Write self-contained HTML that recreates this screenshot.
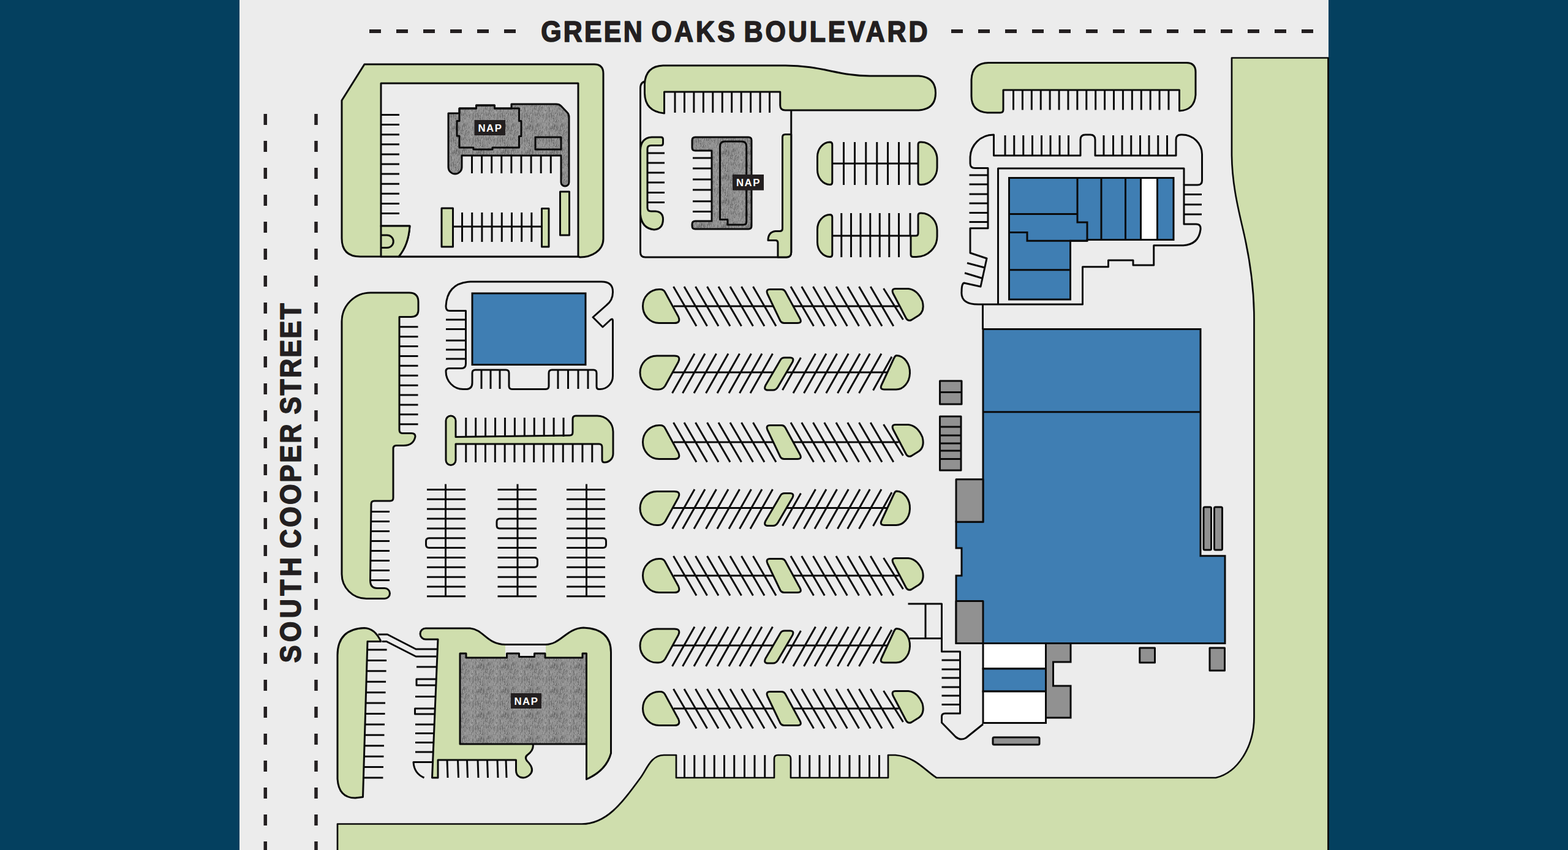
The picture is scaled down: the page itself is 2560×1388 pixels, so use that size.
<!DOCTYPE html>
<html lang="en">
<head>
<meta charset="utf-8">
<title>Site Plan</title>
<style>
html,body{margin:0;padding:0;background:#04405f;overflow:hidden}
body{width:2560px;height:1388px;position:relative;font-family:"Liberation Sans",sans-serif}
svg{position:absolute;left:0;top:0;display:block}
.g{fill:#cfdead;stroke:#0a0a0a;stroke-width:3;stroke-linejoin:round}
.l{fill:none;stroke:#0a0a0a;stroke-width:3;stroke-linecap:butt;stroke-linejoin:round}
.p{fill:#ececec;stroke:#0a0a0a;stroke-width:3;stroke-linejoin:round}
.b{fill:#3f7eb3;stroke:#0a0a0a;stroke-width:3;stroke-linejoin:miter}
.n{fill:#919191;stroke:#0a0a0a;stroke-width:3;stroke-linejoin:round}
.nx{fill:url(#tx);stroke:#0a0a0a;stroke-width:3;stroke-linejoin:round}
.w{fill:#ffffff;stroke:#0a0a0a;stroke-width:3;stroke-linejoin:miter}
.d{fill:none;stroke:#231f20;stroke-width:6;stroke-dasharray:19 25}
.t{font-family:"Liberation Sans",sans-serif;font-weight:700;fill:#231f20;stroke:#231f20;stroke-width:1.7;stroke-linejoin:round}
.nl{fill:#231f20}
.nt{font-family:"Liberation Sans",sans-serif;font-weight:700;fill:#fff;font-size:16.8px;letter-spacing:1.6px;text-anchor:middle}
</style>
</head>
<body>
<svg width="2560" height="1388" viewBox="0 0 2560 1388">
<defs><pattern id="tx" width="40" height="40" patternUnits="userSpaceOnUse"><rect width="40" height="40" fill="#939393"/><g fill="#4d4d4d"><rect x="28" y="35" width="1" height="6" opacity="0.38"/><rect x="28" y="32" width="1" height="6" opacity="0.25"/><rect x="11" y="32" width="1" height="3" opacity="0.25"/><rect x="6" y="28" width="1" height="3" opacity="0.25"/><rect x="5" y="34" width="1" height="6" opacity="0.18"/><rect x="38" y="25" width="1" height="3" opacity="0.25"/><rect x="39" y="0" width="1" height="6" opacity="0.18"/><rect x="3" y="2" width="1" height="2" opacity="0.25"/><rect x="38" y="1" width="1" height="6" opacity="0.38"/><rect x="20" y="28" width="1" height="4" opacity="0.25"/><rect x="33" y="14" width="1" height="5" opacity="0.3"/><rect x="31" y="0" width="1" height="5" opacity="0.18"/><rect x="29" y="17" width="1" height="3" opacity="0.18"/><rect x="16" y="20" width="1" height="6" opacity="0.25"/><rect x="32" y="18" width="1" height="2" opacity="0.18"/><rect x="36" y="6" width="1" height="3" opacity="0.18"/><rect x="18" y="24" width="1" height="2" opacity="0.18"/><rect x="0" y="13" width="1" height="2" opacity="0.18"/><rect x="30" y="24" width="1" height="5" opacity="0.38"/><rect x="26" y="4" width="1" height="4" opacity="0.25"/><rect x="17" y="21" width="1" height="2" opacity="0.3"/><rect x="21" y="0" width="1" height="3" opacity="0.18"/><rect x="8" y="15" width="1" height="5" opacity="0.18"/><rect x="0" y="3" width="1" height="3" opacity="0.38"/><rect x="11" y="35" width="1" height="2" opacity="0.38"/><rect x="32" y="12" width="1" height="5" opacity="0.25"/><rect x="26" y="24" width="1" height="2" opacity="0.38"/><rect x="26" y="13" width="1" height="2" opacity="0.3"/><rect x="37" y="19" width="1" height="2" opacity="0.25"/><rect x="11" y="25" width="1" height="6" opacity="0.18"/><rect x="2" y="9" width="1" height="2" opacity="0.38"/><rect x="16" y="0" width="1" height="6" opacity="0.3"/><rect x="18" y="24" width="1" height="2" opacity="0.18"/><rect x="5" y="13" width="1" height="4" opacity="0.25"/><rect x="0" y="38" width="1" height="3" opacity="0.3"/><rect x="39" y="29" width="1" height="2" opacity="0.38"/><rect x="36" y="8" width="1" height="6" opacity="0.38"/><rect x="11" y="9" width="1" height="3" opacity="0.25"/><rect x="39" y="15" width="1" height="5" opacity="0.25"/><rect x="10" y="35" width="1" height="2" opacity="0.38"/><rect x="30" y="38" width="1" height="2" opacity="0.38"/><rect x="3" y="6" width="1" height="2" opacity="0.18"/><rect x="32" y="16" width="1" height="2" opacity="0.38"/><rect x="16" y="26" width="1" height="6" opacity="0.38"/><rect x="18" y="33" width="1" height="2" opacity="0.18"/><rect x="8" y="14" width="1" height="3" opacity="0.18"/><rect x="17" y="13" width="1" height="2" opacity="0.18"/><rect x="4" y="17" width="1" height="3" opacity="0.38"/><rect x="15" y="3" width="1" height="2" opacity="0.25"/><rect x="18" y="23" width="1" height="4" opacity="0.25"/><rect x="5" y="23" width="1" height="2" opacity="0.38"/><rect x="21" y="33" width="1" height="4" opacity="0.25"/><rect x="37" y="2" width="1" height="2" opacity="0.38"/><rect x="22" y="19" width="1" height="2" opacity="0.18"/><rect x="38" y="4" width="1" height="3" opacity="0.18"/><rect x="19" y="20" width="1" height="2" opacity="0.18"/><rect x="4" y="28" width="1" height="4" opacity="0.3"/><rect x="2" y="8" width="1" height="6" opacity="0.3"/><rect x="22" y="5" width="1" height="5" opacity="0.38"/><rect x="4" y="26" width="1" height="6" opacity="0.18"/><rect x="31" y="36" width="1" height="2" opacity="0.38"/><rect x="24" y="37" width="1" height="2" opacity="0.18"/><rect x="5" y="5" width="1" height="5" opacity="0.18"/><rect x="16" y="26" width="1" height="5" opacity="0.3"/><rect x="24" y="37" width="1" height="3" opacity="0.38"/><rect x="29" y="34" width="1" height="2" opacity="0.18"/><rect x="19" y="38" width="1" height="2" opacity="0.38"/><rect x="1" y="14" width="1" height="5" opacity="0.18"/><rect x="31" y="39" width="1" height="5" opacity="0.38"/><rect x="16" y="0" width="1" height="3" opacity="0.3"/><rect x="9" y="39" width="1" height="2" opacity="0.25"/><rect x="21" y="28" width="1" height="3" opacity="0.25"/><rect x="20" y="25" width="1" height="5" opacity="0.3"/><rect x="12" y="27" width="1" height="6" opacity="0.25"/><rect x="13" y="24" width="1" height="2" opacity="0.3"/><rect x="13" y="8" width="1" height="2" opacity="0.38"/><rect x="22" y="2" width="1" height="5" opacity="0.18"/><rect x="17" y="10" width="1" height="2" opacity="0.38"/><rect x="30" y="17" width="1" height="2" opacity="0.38"/><rect x="24" y="33" width="1" height="3" opacity="0.3"/><rect x="39" y="28" width="1" height="3" opacity="0.18"/><rect x="2" y="17" width="1" height="6" opacity="0.18"/><rect x="17" y="36" width="1" height="3" opacity="0.3"/><rect x="36" y="1" width="1" height="5" opacity="0.25"/><rect x="25" y="29" width="1" height="2" opacity="0.18"/><rect x="17" y="15" width="1" height="6" opacity="0.25"/><rect x="3" y="7" width="1" height="3" opacity="0.18"/><rect x="34" y="23" width="1" height="2" opacity="0.25"/><rect x="12" y="30" width="1" height="3" opacity="0.25"/><rect x="0" y="30" width="1" height="4" opacity="0.18"/><rect x="11" y="14" width="1" height="3" opacity="0.3"/><rect x="34" y="33" width="1" height="4" opacity="0.25"/><rect x="25" y="14" width="1" height="2" opacity="0.38"/><rect x="24" y="8" width="1" height="3" opacity="0.38"/><rect x="12" y="0" width="1" height="3" opacity="0.3"/><rect x="29" y="20" width="1" height="5" opacity="0.25"/><rect x="6" y="7" width="1" height="2" opacity="0.25"/><rect x="24" y="5" width="1" height="3" opacity="0.3"/><rect x="16" y="1" width="1" height="3" opacity="0.18"/><rect x="2" y="28" width="1" height="3" opacity="0.38"/><rect x="17" y="31" width="1" height="2" opacity="0.25"/><rect x="4" y="27" width="1" height="6" opacity="0.18"/><rect x="11" y="34" width="1" height="3" opacity="0.25"/><rect x="30" y="9" width="1" height="4" opacity="0.38"/><rect x="31" y="37" width="1" height="5" opacity="0.18"/><rect x="14" y="28" width="1" height="4" opacity="0.3"/><rect x="35" y="10" width="1" height="4" opacity="0.3"/><rect x="19" y="24" width="1" height="6" opacity="0.25"/><rect x="19" y="9" width="1" height="4" opacity="0.3"/><rect x="36" y="31" width="1" height="2" opacity="0.38"/><rect x="34" y="7" width="1" height="4" opacity="0.18"/><rect x="38" y="24" width="1" height="2" opacity="0.18"/><rect x="33" y="25" width="1" height="4" opacity="0.18"/><rect x="31" y="5" width="1" height="5" opacity="0.25"/><rect x="4" y="34" width="1" height="3" opacity="0.38"/><rect x="25" y="17" width="1" height="2" opacity="0.38"/><rect x="31" y="8" width="1" height="3" opacity="0.38"/><rect x="30" y="33" width="1" height="3" opacity="0.18"/><rect x="12" y="26" width="1" height="4" opacity="0.18"/><rect x="16" y="8" width="1" height="5" opacity="0.18"/><rect x="2" y="12" width="1" height="2" opacity="0.25"/><rect x="0" y="18" width="1" height="3" opacity="0.3"/><rect x="15" y="39" width="1" height="3" opacity="0.18"/><rect x="31" y="37" width="1" height="2" opacity="0.3"/><rect x="12" y="33" width="1" height="3" opacity="0.18"/><rect x="24" y="26" width="1" height="6" opacity="0.25"/><rect x="34" y="13" width="1" height="6" opacity="0.25"/><rect x="33" y="13" width="1" height="6" opacity="0.25"/><rect x="14" y="22" width="1" height="2" opacity="0.3"/><rect x="38" y="20" width="1" height="2" opacity="0.25"/><rect x="12" y="6" width="1" height="2" opacity="0.25"/><rect x="8" y="5" width="1" height="3" opacity="0.38"/><rect x="6" y="27" width="1" height="6" opacity="0.38"/><rect x="34" y="8" width="1" height="2" opacity="0.38"/><rect x="1" y="6" width="1" height="2" opacity="0.3"/><rect x="23" y="7" width="1" height="5" opacity="0.3"/><rect x="32" y="12" width="1" height="6" opacity="0.18"/><rect x="30" y="6" width="1" height="2" opacity="0.18"/><rect x="35" y="39" width="1" height="4" opacity="0.38"/><rect x="9" y="12" width="1" height="2" opacity="0.18"/><rect x="13" y="11" width="1" height="6" opacity="0.25"/><rect x="18" y="6" width="1" height="4" opacity="0.18"/><rect x="8" y="29" width="1" height="2" opacity="0.18"/><rect x="20" y="25" width="1" height="3" opacity="0.38"/><rect x="32" y="22" width="1" height="3" opacity="0.25"/><rect x="38" y="23" width="1" height="2" opacity="0.18"/><rect x="12" y="11" width="1" height="3" opacity="0.38"/><rect x="23" y="23" width="1" height="3" opacity="0.25"/><rect x="38" y="10" width="1" height="2" opacity="0.18"/><rect x="20" y="5" width="1" height="6" opacity="0.38"/><rect x="36" y="38" width="1" height="2" opacity="0.3"/><rect x="16" y="17" width="1" height="2" opacity="0.25"/><rect x="25" y="8" width="1" height="3" opacity="0.3"/><rect x="27" y="11" width="1" height="3" opacity="0.25"/><rect x="11" y="4" width="1" height="6" opacity="0.3"/><rect x="19" y="30" width="1" height="2" opacity="0.18"/><rect x="22" y="39" width="1" height="2" opacity="0.25"/><rect x="17" y="19" width="1" height="3" opacity="0.25"/><rect x="25" y="36" width="1" height="2" opacity="0.18"/><rect x="24" y="32" width="1" height="3" opacity="0.25"/><rect x="7" y="25" width="1" height="4" opacity="0.18"/><rect x="7" y="39" width="1" height="2" opacity="0.25"/><rect x="16" y="28" width="1" height="3" opacity="0.18"/><rect x="12" y="24" width="1" height="2" opacity="0.18"/><rect x="16" y="16" width="1" height="3" opacity="0.3"/><rect x="35" y="34" width="1" height="4" opacity="0.38"/><rect x="33" y="36" width="1" height="6" opacity="0.18"/><rect x="28" y="4" width="1" height="4" opacity="0.18"/><rect x="24" y="10" width="1" height="3" opacity="0.38"/><rect x="10" y="31" width="1" height="4" opacity="0.18"/><rect x="27" y="31" width="1" height="3" opacity="0.3"/><rect x="33" y="25" width="1" height="4" opacity="0.3"/><rect x="23" y="33" width="1" height="3" opacity="0.38"/><rect x="17" y="35" width="1" height="3" opacity="0.3"/><rect x="1" y="0" width="1" height="6" opacity="0.25"/><rect x="37" y="2" width="1" height="5" opacity="0.25"/><rect x="26" y="24" width="1" height="2" opacity="0.3"/><rect x="25" y="3" width="1" height="4" opacity="0.3"/><rect x="4" y="14" width="1" height="3" opacity="0.38"/><rect x="16" y="15" width="1" height="2" opacity="0.18"/><rect x="29" y="9" width="1" height="6" opacity="0.25"/><rect x="38" y="7" width="1" height="2" opacity="0.38"/><rect x="29" y="7" width="1" height="2" opacity="0.18"/><rect x="22" y="33" width="1" height="2" opacity="0.18"/><rect x="23" y="28" width="1" height="2" opacity="0.38"/><rect x="29" y="38" width="1" height="3" opacity="0.38"/><rect x="23" y="33" width="1" height="6" opacity="0.25"/><rect x="18" y="8" width="1" height="2" opacity="0.38"/><rect x="7" y="32" width="1" height="3" opacity="0.3"/><rect x="17" y="17" width="1" height="4" opacity="0.25"/><rect x="17" y="15" width="1" height="2" opacity="0.25"/><rect x="32" y="12" width="1" height="5" opacity="0.18"/><rect x="3" y="0" width="1" height="3" opacity="0.3"/><rect x="27" y="1" width="1" height="4" opacity="0.18"/><rect x="6" y="14" width="1" height="4" opacity="0.3"/><rect x="4" y="5" width="1" height="5" opacity="0.25"/><rect x="35" y="15" width="1" height="5" opacity="0.3"/><rect x="30" y="30" width="1" height="3" opacity="0.25"/><rect x="21" y="21" width="1" height="3" opacity="0.25"/><rect x="4" y="7" width="1" height="3" opacity="0.25"/><rect x="28" y="27" width="1" height="5" opacity="0.3"/><rect x="24" y="9" width="1" height="3" opacity="0.25"/><rect x="38" y="20" width="1" height="3" opacity="0.25"/><rect x="27" y="23" width="1" height="4" opacity="0.18"/><rect x="29" y="20" width="1" height="2" opacity="0.18"/><rect x="27" y="36" width="1" height="4" opacity="0.38"/><rect x="29" y="19" width="1" height="6" opacity="0.18"/><rect x="4" y="19" width="1" height="2" opacity="0.18"/><rect x="19" y="31" width="1" height="5" opacity="0.3"/><rect x="18" y="9" width="1" height="2" opacity="0.3"/><rect x="20" y="23" width="1" height="2" opacity="0.3"/><rect x="28" y="36" width="1" height="4" opacity="0.3"/><rect x="28" y="33" width="1" height="6" opacity="0.3"/><rect x="29" y="20" width="1" height="2" opacity="0.38"/><rect x="33" y="15" width="1" height="2" opacity="0.3"/><rect x="23" y="1" width="1" height="3" opacity="0.38"/><rect x="37" y="24" width="1" height="6" opacity="0.25"/><rect x="36" y="23" width="1" height="6" opacity="0.38"/><rect x="34" y="9" width="1" height="6" opacity="0.25"/><rect x="11" y="5" width="1" height="6" opacity="0.38"/><rect x="18" y="1" width="1" height="2" opacity="0.18"/><rect x="34" y="10" width="1" height="4" opacity="0.3"/><rect x="1" y="27" width="1" height="2" opacity="0.3"/><rect x="34" y="5" width="1" height="3" opacity="0.18"/><rect x="17" y="6" width="1" height="3" opacity="0.18"/><rect x="1" y="9" width="1" height="2" opacity="0.38"/><rect x="15" y="14" width="1" height="3" opacity="0.3"/><rect x="29" y="25" width="1" height="3" opacity="0.3"/><rect x="21" y="8" width="1" height="3" opacity="0.38"/><rect x="34" y="4" width="1" height="5" opacity="0.18"/><rect x="26" y="22" width="1" height="6" opacity="0.18"/><rect x="24" y="5" width="1" height="3" opacity="0.18"/><rect x="33" y="23" width="1" height="5" opacity="0.18"/><rect x="7" y="26" width="1" height="3" opacity="0.25"/><rect x="15" y="10" width="1" height="5" opacity="0.38"/><rect x="10" y="20" width="1" height="2" opacity="0.38"/><rect x="27" y="33" width="1" height="3" opacity="0.3"/><rect x="3" y="30" width="1" height="3" opacity="0.18"/><rect x="19" y="9" width="1" height="6" opacity="0.25"/><rect x="3" y="29" width="1" height="2" opacity="0.38"/><rect x="2" y="20" width="1" height="2" opacity="0.25"/><rect x="11" y="22" width="1" height="2" opacity="0.25"/><rect x="38" y="30" width="1" height="4" opacity="0.25"/><rect x="28" y="11" width="1" height="3" opacity="0.38"/><rect x="11" y="19" width="1" height="5" opacity="0.38"/><rect x="16" y="31" width="1" height="3" opacity="0.3"/><rect x="35" y="5" width="1" height="3" opacity="0.25"/><rect x="25" y="3" width="1" height="2" opacity="0.25"/><rect x="24" y="33" width="1" height="6" opacity="0.3"/><rect x="3" y="15" width="1" height="2" opacity="0.38"/><rect x="23" y="28" width="1" height="6" opacity="0.25"/><rect x="26" y="38" width="1" height="6" opacity="0.25"/><rect x="26" y="10" width="1" height="6" opacity="0.3"/><rect x="9" y="16" width="1" height="6" opacity="0.25"/><rect x="39" y="17" width="1" height="4" opacity="0.18"/><rect x="9" y="36" width="1" height="6" opacity="0.25"/><rect x="0" y="13" width="1" height="6" opacity="0.25"/><rect x="8" y="5" width="1" height="3" opacity="0.3"/><rect x="39" y="33" width="1" height="2" opacity="0.38"/><rect x="29" y="5" width="1" height="5" opacity="0.3"/><rect x="1" y="12" width="1" height="3" opacity="0.25"/><rect x="5" y="28" width="1" height="2" opacity="0.18"/><rect x="34" y="26" width="1" height="4" opacity="0.38"/><rect x="10" y="19" width="1" height="3" opacity="0.3"/><rect x="25" y="4" width="1" height="4" opacity="0.3"/><rect x="29" y="4" width="1" height="3" opacity="0.18"/><rect x="8" y="6" width="1" height="5" opacity="0.38"/><rect x="29" y="7" width="1" height="5" opacity="0.38"/><rect x="0" y="24" width="1" height="5" opacity="0.38"/><rect x="15" y="18" width="1" height="4" opacity="0.18"/><rect x="29" y="0" width="1" height="6" opacity="0.25"/><rect x="39" y="9" width="1" height="3" opacity="0.38"/><rect x="34" y="19" width="1" height="3" opacity="0.38"/><rect x="35" y="5" width="1" height="3" opacity="0.25"/><rect x="12" y="24" width="1" height="5" opacity="0.18"/><rect x="21" y="19" width="1" height="3" opacity="0.38"/><rect x="21" y="28" width="1" height="6" opacity="0.38"/><rect x="5" y="6" width="1" height="2" opacity="0.18"/><rect x="8" y="11" width="1" height="2" opacity="0.25"/><rect x="25" y="2" width="1" height="6" opacity="0.38"/><rect x="37" y="5" width="1" height="2" opacity="0.25"/><rect x="2" y="10" width="1" height="2" opacity="0.38"/><rect x="26" y="4" width="1" height="3" opacity="0.38"/><rect x="32" y="8" width="1" height="5" opacity="0.25"/><rect x="9" y="24" width="1" height="3" opacity="0.3"/><rect x="26" y="39" width="1" height="2" opacity="0.38"/><rect x="39" y="20" width="1" height="6" opacity="0.25"/><rect x="38" y="33" width="1" height="2" opacity="0.3"/><rect x="21" y="12" width="1" height="3" opacity="0.3"/><rect x="28" y="6" width="1" height="4" opacity="0.38"/><rect x="13" y="32" width="1" height="3" opacity="0.3"/><rect x="6" y="39" width="1" height="5" opacity="0.25"/><rect x="16" y="34" width="1" height="3" opacity="0.25"/><rect x="22" y="39" width="1" height="4" opacity="0.25"/><rect x="36" y="12" width="1" height="4" opacity="0.25"/><rect x="36" y="1" width="1" height="5" opacity="0.25"/><rect x="5" y="8" width="1" height="2" opacity="0.38"/><rect x="36" y="26" width="1" height="5" opacity="0.3"/><rect x="21" y="5" width="1" height="6" opacity="0.3"/><rect x="17" y="29" width="1" height="2" opacity="0.38"/></g><rect x="8" y="15" width="1" height="4" fill="#b4b4b4" opacity="0.45"/><rect x="34" y="34" width="1" height="4" fill="#b4b4b4" opacity="0.45"/><rect x="4" y="35" width="1" height="3" fill="#b4b4b4" opacity="0.45"/><rect x="10" y="21" width="1" height="4" fill="#b4b4b4" opacity="0.45"/><rect x="9" y="7" width="1" height="2" fill="#b4b4b4" opacity="0.45"/><rect x="18" y="23" width="1" height="2" fill="#b4b4b4" opacity="0.45"/><rect x="36" y="23" width="1" height="2" fill="#b4b4b4" opacity="0.45"/><rect x="11" y="38" width="1" height="4" fill="#b4b4b4" opacity="0.45"/><rect x="4" y="29" width="1" height="2" fill="#b4b4b4" opacity="0.45"/><rect x="25" y="11" width="1" height="4" fill="#b4b4b4" opacity="0.45"/><rect x="8" y="19" width="1" height="4" fill="#b4b4b4" opacity="0.45"/><rect x="24" y="39" width="1" height="4" fill="#b4b4b4" opacity="0.45"/><rect x="1" y="10" width="1" height="2" fill="#b4b4b4" opacity="0.45"/><rect x="26" y="29" width="1" height="2" fill="#b4b4b4" opacity="0.45"/><rect x="9" y="33" width="1" height="3" fill="#b4b4b4" opacity="0.45"/><rect x="7" y="36" width="1" height="3" fill="#b4b4b4" opacity="0.45"/><rect x="11" y="21" width="1" height="4" fill="#b4b4b4" opacity="0.45"/><rect x="8" y="16" width="1" height="2" fill="#b4b4b4" opacity="0.45"/><rect x="36" y="21" width="1" height="2" fill="#b4b4b4" opacity="0.45"/><rect x="2" y="9" width="1" height="3" fill="#b4b4b4" opacity="0.45"/><rect x="31" y="38" width="1" height="2" fill="#b4b4b4" opacity="0.45"/><rect x="30" y="22" width="1" height="3" fill="#b4b4b4" opacity="0.45"/><rect x="39" y="36" width="1" height="3" fill="#b4b4b4" opacity="0.45"/><rect x="18" y="31" width="1" height="3" fill="#b4b4b4" opacity="0.45"/><rect x="26" y="27" width="1" height="2" fill="#b4b4b4" opacity="0.45"/><rect x="36" y="7" width="1" height="4" fill="#b4b4b4" opacity="0.45"/><rect x="21" y="33" width="1" height="4" fill="#b4b4b4" opacity="0.45"/><rect x="27" y="26" width="1" height="2" fill="#b4b4b4" opacity="0.45"/><rect x="20" y="3" width="1" height="3" fill="#b4b4b4" opacity="0.45"/><rect x="39" y="27" width="1" height="4" fill="#b4b4b4" opacity="0.45"/><rect x="24" y="38" width="1" height="3" fill="#b4b4b4" opacity="0.45"/><rect x="19" y="37" width="1" height="2" fill="#b4b4b4" opacity="0.45"/><rect x="15" y="7" width="1" height="3" fill="#b4b4b4" opacity="0.45"/><rect x="15" y="32" width="1" height="3" fill="#b4b4b4" opacity="0.45"/><rect x="3" y="30" width="1" height="4" fill="#b4b4b4" opacity="0.45"/><rect x="6" y="33" width="1" height="2" fill="#b4b4b4" opacity="0.45"/><rect x="34" y="19" width="1" height="4" fill="#b4b4b4" opacity="0.45"/><rect x="25" y="15" width="1" height="2" fill="#b4b4b4" opacity="0.45"/><rect x="23" y="34" width="1" height="3" fill="#b4b4b4" opacity="0.45"/><rect x="36" y="10" width="1" height="2" fill="#b4b4b4" opacity="0.45"/><rect x="26" y="36" width="1" height="2" fill="#b4b4b4" opacity="0.45"/><rect x="4" y="6" width="1" height="4" fill="#b4b4b4" opacity="0.45"/><rect x="8" y="7" width="1" height="4" fill="#b4b4b4" opacity="0.45"/><rect x="36" y="29" width="1" height="2" fill="#b4b4b4" opacity="0.45"/><rect x="18" y="15" width="1" height="4" fill="#b4b4b4" opacity="0.45"/><rect x="19" y="1" width="1" height="3" fill="#b4b4b4" opacity="0.45"/><rect x="11" y="4" width="1" height="3" fill="#b4b4b4" opacity="0.45"/><rect x="28" y="33" width="1" height="3" fill="#b4b4b4" opacity="0.45"/><rect x="9" y="22" width="1" height="4" fill="#b4b4b4" opacity="0.45"/><rect x="37" y="14" width="1" height="2" fill="#b4b4b4" opacity="0.45"/><rect x="19" y="1" width="1" height="3" fill="#b4b4b4" opacity="0.45"/><rect x="20" y="19" width="1" height="3" fill="#b4b4b4" opacity="0.45"/><rect x="31" y="9" width="1" height="3" fill="#b4b4b4" opacity="0.45"/><rect x="13" y="12" width="1" height="3" fill="#b4b4b4" opacity="0.45"/><rect x="3" y="12" width="1" height="3" fill="#b4b4b4" opacity="0.45"/><rect x="22" y="30" width="1" height="2" fill="#b4b4b4" opacity="0.45"/><rect x="11" y="35" width="1" height="2" fill="#b4b4b4" opacity="0.45"/><rect x="34" y="15" width="1" height="2" fill="#b4b4b4" opacity="0.45"/><rect x="3" y="6" width="1" height="3" fill="#b4b4b4" opacity="0.45"/><rect x="20" y="17" width="1" height="3" fill="#b4b4b4" opacity="0.45"/><rect x="8" y="21" width="1" height="4" fill="#b4b4b4" opacity="0.45"/><rect x="28" y="26" width="1" height="2" fill="#b4b4b4" opacity="0.45"/><rect x="10" y="14" width="1" height="3" fill="#b4b4b4" opacity="0.45"/><rect x="7" y="12" width="1" height="3" fill="#b4b4b4" opacity="0.45"/><rect x="11" y="15" width="1" height="4" fill="#b4b4b4" opacity="0.45"/><rect x="18" y="17" width="1" height="3" fill="#b4b4b4" opacity="0.45"/><rect x="33" y="7" width="1" height="4" fill="#b4b4b4" opacity="0.45"/><rect x="33" y="14" width="1" height="3" fill="#b4b4b4" opacity="0.45"/><rect x="11" y="14" width="1" height="3" fill="#b4b4b4" opacity="0.45"/><rect x="8" y="5" width="1" height="3" fill="#b4b4b4" opacity="0.45"/><rect x="4" y="28" width="1" height="4" fill="#b4b4b4" opacity="0.45"/><rect x="4" y="33" width="1" height="2" fill="#b4b4b4" opacity="0.45"/><rect x="0" y="38" width="1" height="4" fill="#b4b4b4" opacity="0.45"/><rect x="18" y="34" width="1" height="3" fill="#b4b4b4" opacity="0.45"/><rect x="27" y="36" width="1" height="2" fill="#b4b4b4" opacity="0.45"/><rect x="10" y="18" width="1" height="2" fill="#b4b4b4" opacity="0.45"/><rect x="15" y="11" width="1" height="3" fill="#b4b4b4" opacity="0.45"/><rect x="35" y="1" width="1" height="2" fill="#b4b4b4" opacity="0.45"/><rect x="9" y="2" width="1" height="4" fill="#b4b4b4" opacity="0.45"/><rect x="29" y="37" width="1" height="3" fill="#b4b4b4" opacity="0.45"/></pattern></defs>
<rect x="0" y="0" width="2560" height="1388" fill="#04405f"/>
<rect x="391" y="0" width="1778" height="1388" fill="#ececec"/>
<!-- roads -->
<g id="roads">
<path class="d" d="M603 51H850"/>
<path class="d" d="M1553 51H2160"/>
<path class="d" style="stroke-width:5.5;stroke-dasharray:18 26" d="M433.250 186V1388"/>
<path class="d" style="stroke-width:5.5;stroke-dasharray:18 26" d="M516 186V1388"/>
<text class="t" transform="translate(883.20 68.300) scale(0.89 1)" font-size="48.3" textLength="186.0" lengthAdjust="spacing">GREEN</text>
<text class="t" transform="translate(1063.40 68.300) scale(0.89 1)" font-size="48.3" textLength="153.4" lengthAdjust="spacing">OAKS</text>
<text class="t" transform="translate(1214.60 68.300) scale(0.89 1)" font-size="48.3" textLength="336.9" lengthAdjust="spacing">BOULEVARD</text>
<text class="t" transform="translate(491 1082.30) rotate(-90) scale(0.89 1)" font-size="48.3" textLength="193.5" lengthAdjust="spacing">SOUTH</text>
<text class="t" transform="translate(491 895.20) rotate(-90) scale(0.89 1)" font-size="48.3" textLength="227.9" lengthAdjust="spacing">COOPER</text>
<text class="t" transform="translate(491 676.40) rotate(-90) scale(0.89 1)" font-size="48.3" textLength="203.6" lengthAdjust="spacing">STREET</text>
</g>
<!-- big green perimeter -->
<g id="perim">
<path class="g" style="stroke-width:2.7" d="M551 1392V1345.5H950C990 1345.5 1015 1312 1045 1271C1056 1257 1062 1233 1084 1233H1104V1270H1264V1239Q1264 1233 1270 1233H1285Q1291 1233 1291 1239V1270H1450V1233H1462C1495 1236 1510 1258 1529 1270H1985C2020 1262 2047.500 1220 2047.500 1171V520C2047.500 460 2038 411 2029 373C2020 335 2011 295 2011 250V94.500H2168.500V1392Z"/>
<path class="l" d="M1117.5 1233V1270M1133.75 1233V1270M1150 1233V1270M1166.25 1233V1270M1182.5 1233V1270M1198.75 1233V1270M1215.5 1233V1270M1232 1233V1270M1248.75 1233V1270M1305.75 1233V1270M1321.75 1233V1270M1338 1233V1270M1354.5 1233V1270M1370.75 1233V1270M1387 1233V1270M1403.25 1233V1270M1419.5 1233V1270M1435.5 1233V1270"/>
</g>
<!-- block A: top-left -->
<g id="blockA">
<path class="g" d="M595 105H970Q985 105 985 120V390C985 410 965 420 947 420L944 419H588Q558 419 558 389V164Z"/>
<path class="p" d="M622 136H944V419H651Q667 400 669 369H622Z"/>
<path class="g" d="M622 369H669Q667 400 651 419H622Z"/>
<path class="l" d="M622 384H632A10 10 0 0 1 632 404.500H622"/>
<path class="l" d="M622 187.500h30M622 203.600h30M622 219.700h30M622 235.800h30M622 251.900h30M622 268h30M622 284.100h30M622 300.200h30M622 316.300h30M622 332.400h30M622 348.500h30"/>
<path class="nx" d="M732 185H750V177H777.500V172H807.500V177H835V170H908Q913 170 916 173L926 183.500Q929 186.500 929 191V297.500A6.500 6.500 0 0 1 916 297.500V254H754V273A11 11 0 0 1 732 273Z"/>
<path class="l" d="M750 177H777.500V172H807.500V177H847.500V197.500H851V222.500H847.500V241H804V244H773V241H750V222H746V197.500H750Z"/>
<path class="l" d="M874 224H916V244H874Z"/>
<path class="l" d="M770.500 254v29M786.600 254v29M802.700 254v29M818.800 254v29M834.900 254v29M851 254v29M867.100 254v29M883.200 254v29M899.300 254v29"/>
<rect class="nl" x="774.500" y="196" width="50.500" height="25"/>
<text class="nt" x="800.500" y="214.500">NAP</text>
<path class="l" d="M739.500 370H884.500M754.500 347v48M770.700 347v48M786.900 347v48M803.100 347v48M819.300 347v48M835.500 347v48M851.700 347v48M867.900 347v48"/>
<rect class="g" x="721" y="340" width="18.500" height="63"/>
<rect class="g" x="884.500" y="340.500" width="11.500" height="62.500"/>
<rect class="g" x="914.500" y="313" width="15" height="71"/>
</g>
<!-- block B: left green L -->
<g id="blockB">
<path class="g" d="M605 478H668Q683 478 683 493V506Q683 517.5 671 517.5H652V702Q652 707.5 657 707.5H672Q678 707.5 678 713Q675 727.5 659 727.5H647Q642 727.5 642 732.5V813Q642 818 637 818H611Q606 818 606 823L604.5 948Q604.5 960.5 616 960.5H628A8.5 8.5 0 0 1 628 977.5H598A40 40 0 0 1 558 937.500V525A47 47 0 0 1 605 478Z"/>
<path class="l" d="M652 533.75h30.5M652 549.65h30.5M652 565.55h30.5M652 581.45h30.5M652 597.35h30.5M652 613.25h30.5M652 629.15h30.5M652 645.05h30.5M652 660.95h30.5M652 676.85h30.5M652 692.75h30.5M605.5 835.5h30.5M605.5 851.5h30.5M605.5 867.5h30.5M605.5 883.5h30.5M605.5 899.5h30.5M605.5 915.5h30.5M605.5 931.5h30.5M605.5 947.5h30.5"/>
</g>
<!-- block C: blue building -->
<g id="blockC">
<path class="l" d="M728 500Q730 462 768 460H982Q1000.500 460 1000.500 476Q1001 490 990 498.500L968 518L984 534L996.500 522.500Q1000.500 519 1000.500 524V614A21 21.500 0 0 1 979.500 635.500H978Q974 635.500 974 631V609Q974 604 969 604H901Q896 604 896 609V630.500Q896 635.500 891 635.500H836Q831 635.500 831 630.500V609Q831 604 826 604H776Q771 604 771 609V625Q771 635.500 761 635.500H756A28 29 0 0 1 728 606.500Q728 601.500 733 601.500H753Q760.500 601.500 760.500 594V507.500H734Q728 507.500 728 500Z"/>
<path class="l" d="M728 522H760.5M728 537.5H760.5M728 556H760.5M728 571H760.5M728 586H760.5M786 604V635M801 604V635M816 604V635M911 604V635M927.5 604V635M944 604V635M960 604V635"/>
<rect class="b" x="771" y="479" width="185" height="116.500"/>
</g>
<!-- block D -->
<g id="blockD">
<path class="g" d="M728 687A8 8 0 0 1 744 687V713.500L930 711Q935 711 935 706V684Q935 679 940 679H975A26 26 0 0 1 1001 705V741A14 14 0 0 1 987 755Q983 755 983 751V730Q983 725 978 725H744V751.500A8 8 0 0 1 728 751.500Z"/>
<path class="l" d="M760.75 682V713M776.68 682V713M792.61 682V713M808.54 682V713M824.47 682V713M840.4 682V713M856.33 682V713M872.26 682V713M888.19 682V713M904.12 682V713M920.05 682V713M760.75 725V755M776.6 725V755M792.45 725V755M808.3 725V755M824.15 725V755M840 725V755M855.85 725V755M871.7 725V755M887.55 725V755M903.4 725V755M919.25 725V755M935.1 725V755M950.95 725V755M966.8 725V755"/>
</g>
<!-- parking columns -->
<g id="pcols">
<path class="l" d="M727.5 790.5V974M697 799.5H760M697 815.35H760M697 831.2H760M697 847.05H760M697 862.9H760M700.5 878.75H760M700.5 894.6H760M697 910.45H760M697 926.3H760M697 942.15H760M697 958H760M697 973.85H760M700.5 878.75Q695.5 878.75 695.5 883.75V889.6Q695.5 894.6 700.5 894.6M845 790.5V974M812.5 799.5H876M812.5 815.35H876M812.5 831.2H876M816 847.05H876M816 862.9H876M812.5 878.75H876M812.5 894.6H876M812.5 910.45H872.5M812.5 926.3H872.5M812.5 942.15H876M812.5 958H876M812.5 973.85H876M816 847.05Q811 847.05 811 852.05V857.9Q811 862.9 816 862.9M872.5 910.45Q877.5 910.45 877.5 915.45V921.3Q877.5 926.3 872.5 926.3M957.5 790.5V974M925 799.5H988M925 815.35H988M925 831.2H988M925 847.05H988M925 862.9H988M925 878.75H984.5M925 894.6H984.5M925 910.45H988M925 926.3H988M925 942.15H988M925 958H988M925 973.85H988M984.5 878.75Q989.5 878.75 989.5 883.75V889.6Q989.5 894.6 984.5 894.6"/>
</g>
<!-- block E: bottom-left -->
<g id="blockE">
<path class="g" d="M600 1047.5H622Q612 1026 595 1025.5Q551 1027 551 1070V1272Q553 1303 580 1303L592.5 1301.500Z"/>
<path class="l" d="M599.6 1061h32M599.09 1078.42h32M598.57 1095.84h32M598.06 1113.26h32M597.54 1130.68h32M597.03 1148.1h32M596.52 1165.52h32M596 1182.94h32M595.49 1200.36h32M594.97 1217.78h32M594.46 1235.2h32M593.94 1252.62h32M593.43 1270.04h32"/>
<path class="l" d="M617.5 1036H632.5L679 1060H713M624 1047.5H631L679 1072H712.5"/>
<path class="g" style="stroke:none" d="M695 1026H767.5C790 1028 795 1052.5 825 1052.5V1074H891V1052.5C915 1052.5 925 1026 952.5 1025Q997.5 1027 997.5 1065V1230Q990 1258 957.5 1272.5V1215H870Q872 1224 862 1232Q856 1236 860 1242Q874 1256 865 1265Q858 1272 849 1269Q842.5 1266 842.5 1258V1241H715V1270H705.5L715 1044H695A9 9 0 0 1 695 1026Z"/>
<path class="l" d="M957.5 1215V1272.5Q990 1258 997.5 1230V1065Q997.5 1027 952.5 1025C925 1026 915 1052.5 891 1052.5H825C795 1052.5 790 1028 767.5 1026H695A9 9 0 0 0 695 1044H715L705.5 1270H715V1241H842.5V1258Q842.5 1266 849 1269Q858 1272 865 1265Q874 1256 860 1242Q856 1236 862 1232Q872 1224 870 1215"/>
<path class="nx" d="M751 1067H761V1074H827.5V1067H847.5V1072.5H872.5V1067H890V1074H951V1067H957.5V1215H751Z"/>
<path class="l" d="M730 1241L731 1270M747.5 1241L748.5 1270M762.5 1241L763.5 1270M780 1241L781 1270M795.5 1241L796.5 1270M812 1241L813 1270M826 1241L827 1270"/>
<path class="l" d="M680 1089H713M678 1137.5H711M678 1183H709M678 1197.5H708.5M678 1212.5H708M678 1228H707.5M713 1109H680V1119H712.5M711 1157H677.5V1166H710.5M707 1244.5H675Q676 1263 692.5 1270"/>
<rect class="nl" x="834" y="1132" width="50" height="25"/>
<text class="nt" x="859.5" y="1150.5">NAP</text>
</g>
<!-- block F: top middle lot -->
<g id="blockF">
<path class="l" d="M1057 132.5Q1045.500 132.5 1045.500 144V412Q1045.500 420 1053.500 420H1284Q1291.75 420 1291.75 412V180"/>
<path class="g" d="M1082.5 107H1282.5C1340 107 1370 124 1420 124H1500Q1527.5 126 1527.5 152Q1527.5 178 1500 180H1282Q1273.75 180 1273.75 172V150H1084.5V185Q1053 182 1052.5 152V137Q1054 108 1082.5 107Z"/>
<path class="l" d="M1102 150V184M1117.45 150V184M1132.9 150V184M1148.35 150V184M1163.8 150V184M1179.25 150V184M1194.7 150V184M1210.15 150V184M1225.6 150V184M1241.05 150V184M1256.5 150V184"/>
<path class="g" d="M1045.500 245Q1046.500 225 1064 224H1079Q1082.5 224 1082.5 227.5V234Q1082.5 237.5 1079 237.5H1063Q1057 237.5 1057 243V339Q1057 345 1063 345H1070Q1082.5 346 1082.5 358Q1082.5 374 1068 375Q1047.500 373 1045.500 350Z"/>
<path class="l" d="M1057 250H1085M1057 266H1085M1057 282H1085M1057 298H1085M1057 314.5H1085M1057 330.5H1085M1131 258H1162M1131 275H1162M1131 293H1162M1131 310H1162M1131 328.75H1162M1131 345.5H1162"/>
<path class="nx" transform="translate(0 1)" d="M1135 223H1222Q1227 223 1227 228V368Q1227 373 1222 373H1135Q1130 373 1130 368V365Q1130 360 1135 360H1162V245H1135Q1130 245 1130 240V228Q1130 223 1135 223Z"/>
<path class="l" transform="translate(0 1)" d="M1175.5 357.5V238Q1175.5 230 1183.5 230H1210.75Q1218.75 230 1218.75 238V361Q1218.75 366 1213.75 366H1188V357.5Z"/>
<rect class="nl" x="1196" y="285" width="51" height="25.750"/>
<text class="nt" x="1222" y="303.750">NAP</text>
<path class="g" d="M1291.75 219.5H1282Q1277.5 219.5 1277.5 224V373Q1277.5 377.5 1273 377.5H1266Q1254 379 1254 392.5H1266Q1270 392.5 1270 396.5V420H1284Q1291.75 420 1291.75 412Z"/>
</g>
<!-- block G: two parking rows -->
<g id="blockG">
<path class="g" d="M1355 232 Q1358.800 232 1358.800 236 V297.5 Q1358.800 301.5 1355 301.5 A21 24 0 0 1 1334.500 277.5 V256 A21 24 0 0 1 1355 232Z"/>
<path class="g" d="M1503 232H1504A26 28 0 0 1 1530 260V273.500A26 28 0 0 1 1504 301.500H1503Q1499 301.500 1499 297.500V236Q1499 232 1503 232Z"/>
<path class="l" d="M1359 267H1499M1377.5 232V302M1395.5 232V302M1413.75 232V302M1431.75 232V302M1449.5 232V302M1467.5 232V302M1485 232V302"/>
<path class="g" d="M1355 350.5 Q1358.800 350.5 1358.800 354.5 V415.5 Q1358.800 419.5 1355 419.5 A21 24 0 0 1 1334.500 395.5 V374.5 A21 24 0 0 1 1355 350.5Z"/>
<path class="g" d="M1503 348H1504A26 28 0 0 1 1530 376V386A34 33.500 0 0 1 1496 419.500H1491Q1487 419.500 1487 415.500V385H1495Q1499 385 1499 381V352Q1499 348 1503 348Z"/>
<path class="l" d="M1359 385H1487M1373.75 348V420M1389.5 348V420M1405 348V420M1420.75 348V420M1436.25 348V420M1451.75 348V420M1467.5 348V420M1486 348V385"/>
</g>
<!-- angled parking rows -->
<g id="rows">
<path class="l" d="M1100 500H1467.5M1099.5 468L1137 532.5M1117 468L1154.5 532.5M1135.5 468L1173 532.5M1154.5 468L1192 532.5M1173 468L1210.5 532.5M1192 468L1229.5 532.5M1210.5 468L1248 532.5M1229.5 468L1267 532.5M1291 468L1328.5 532.5M1308.75 468L1346.25 532.5M1327.5 468L1365 532.5M1345.75 468L1383.25 532.5M1365 468L1402.5 532.5M1383.75 468L1421.25 532.5M1402.5 468L1440 532.5M1421.25 468L1458.75 532.5M1442.5 471L1474.5 522"/>
<path class="g" d="M1076 472.5 H1078 Q1083.5 472.5 1086 477.5 L1107.5 517 Q1112 527.5 1101 527.5 H1076 A26.500 27.500 0 0 1 1076 472.5Z"/>
<path class="g" d="M1257 472.5 H1276 Q1280 472.5 1282 476 L1306 520 Q1310 527.5 1302 527.5 H1280 Q1276 527.5 1274 524 L1253 480 Q1250 472.5 1257 472.5Z"/>
<path class="g" d="M1462 471.5 H1483 Q1498 473 1506 492 Q1510 508 1500 515 L1488 522.5 Q1482 525 1479 519 L1458 479 Q1455 471.5 1462 471.5Z"/>
<path class="l" d="M1097.5 608H1450M1097.5 642L1134 577.5M1114.5 642L1151 577.5M1133 642L1169.5 577.5M1152.5 642L1189 577.5M1171 642L1207.5 577.5M1190 642L1226.5 577.5M1207.5 642L1244 577.5M1225 642L1261.5 577.5M1295 642L1331.5 577.5M1312.5 642L1349 577.5M1330 642L1366.5 577.5M1348.75 642L1385.25 577.5M1367.5 642L1404 577.5M1383.75 642L1420.25 577.5M1402.5 642L1439 577.5M1277.5 637L1307.5 584M1425.500 637.5L1456 582.5"/>
<path class="g" d="M1072.5 581 H1101 Q1112 581 1107.5 591 L1086 630 Q1082 636 1075 636 H1072.5 A27.500 27.500 0 0 1 1072.5 581Z"/>
<path class="g" d="M1281 584 H1290 Q1297 584 1294 591 L1270 632 Q1267 637 1262 637 H1254 Q1246 637 1250 629 L1274 588 Q1276 584 1281 584Z"/>
<path class="g" d="M1464 580.5 A22.500 27.750 0 0 1 1462 636 H1444 Q1435.500 636 1439.500 628 L1459.500 585 Q1461.500 580.5 1464 580.5Z"/>
<path class="l" d="M1100 722H1467.5M1099.5 690L1137 754.5M1117 690L1154.5 754.5M1135.5 690L1173 754.5M1154.5 690L1192 754.5M1173 690L1210.5 754.5M1192 690L1229.5 754.5M1210.5 690L1248 754.5M1229.5 690L1267 754.5M1291 690L1328.5 754.5M1308.75 690L1346.25 754.5M1327.5 690L1365 754.5M1345.75 690L1383.25 754.5M1365 690L1402.5 754.5M1383.75 690L1421.25 754.5M1402.5 690L1440 754.5M1421.25 690L1458.75 754.5M1442.5 693L1474.5 744"/>
<path class="g" d="M1076 694.5 H1078 Q1083.5 694.5 1086 699.5 L1107.5 739 Q1112 749.5 1101 749.5 H1076 A26.500 27.500 0 0 1 1076 694.5Z"/>
<path class="g" d="M1257 694.5 H1276 Q1280 694.5 1282 698 L1306 742 Q1310 749.5 1302 749.5 H1280 Q1276 749.5 1274 746 L1253 702 Q1250 694.5 1257 694.5Z"/>
<path class="g" d="M1462 693.5 H1483 Q1498 695 1506 714 Q1510 730 1500 737 L1488 744.5 Q1482 747 1479 741 L1458 701 Q1455 693.5 1462 693.5Z"/>
<path class="l" d="M1097.5 829.5H1450M1097.5 863.5L1134 799M1114.5 863.5L1151 799M1133 863.5L1169.5 799M1152.5 863.5L1189 799M1171 863.5L1207.5 799M1190 863.5L1226.5 799M1207.5 863.5L1244 799M1225 863.5L1261.5 799M1295 863.5L1331.5 799M1312.5 863.5L1349 799M1330 863.5L1366.5 799M1348.75 863.5L1385.25 799M1367.5 863.5L1404 799M1383.75 863.5L1420.25 799M1402.5 863.5L1439 799M1277.5 858.5L1307.5 805.5M1425.500 859L1456 804"/>
<path class="g" d="M1072.5 802.5 H1101 Q1112 802.5 1107.5 812.5 L1086 851.5 Q1082 857.5 1075 857.5 H1072.5 A27.500 27.500 0 0 1 1072.5 802.5Z"/>
<path class="g" d="M1281 805.5 H1290 Q1297 805.5 1294 812.5 L1270 853.5 Q1267 858.5 1262 858.5 H1254 Q1246 858.5 1250 850.5 L1274 809.5 Q1276 805.5 1281 805.5Z"/>
<path class="g" d="M1464 802 A22.500 27.750 0 0 1 1462 857.5 H1444 Q1435.500 857.5 1439.500 849.5 L1459.500 806.5 Q1461.500 802 1464 802Z"/>
<path class="l" d="M1100 940H1467.5M1099.5 908L1137 972.5M1117 908L1154.5 972.5M1135.5 908L1173 972.5M1154.5 908L1192 972.5M1173 908L1210.5 972.5M1192 908L1229.5 972.5M1210.5 908L1248 972.5M1229.5 908L1267 972.5M1291 908L1328.5 972.5M1308.75 908L1346.25 972.5M1327.5 908L1365 972.5M1345.75 908L1383.25 972.5M1365 908L1402.5 972.5M1383.75 908L1421.25 972.5M1402.5 908L1440 972.5M1421.25 908L1458.75 972.5M1442.5 911L1474.5 962"/>
<path class="g" d="M1076 912.5 H1078 Q1083.5 912.5 1086 917.5 L1107.5 957 Q1112 967.5 1101 967.5 H1076 A26.500 27.500 0 0 1 1076 912.5Z"/>
<path class="g" d="M1257 912.5 H1276 Q1280 912.5 1282 916 L1306 960 Q1310 967.5 1302 967.5 H1280 Q1276 967.5 1274 964 L1253 920 Q1250 912.5 1257 912.5Z"/>
<path class="g" d="M1462 911.5 H1483 Q1498 913 1506 932 Q1510 948 1500 955 L1488 962.5 Q1482 965 1479 959 L1458 919 Q1455 911.5 1462 911.5Z"/>
<path class="l" d="M1097.5 1054H1450M1097.5 1088L1134 1023.5M1114.5 1088L1151 1023.5M1133 1088L1169.5 1023.5M1152.5 1088L1189 1023.5M1171 1088L1207.5 1023.5M1190 1088L1226.5 1023.5M1207.5 1088L1244 1023.5M1225 1088L1261.5 1023.5M1295 1088L1331.5 1023.5M1312.5 1088L1349 1023.5M1330 1088L1366.5 1023.5M1348.75 1088L1385.25 1023.5M1367.5 1088L1404 1023.5M1383.75 1088L1420.25 1023.5M1402.5 1088L1439 1023.5M1277.5 1083L1307.5 1030M1425.500 1083.5L1456 1028.5"/>
<path class="g" d="M1072.5 1027 H1101 Q1112 1027 1107.5 1037 L1086 1076 Q1082 1082 1075 1082 H1072.5 A27.500 27.500 0 0 1 1072.5 1027Z"/>
<path class="g" d="M1281 1030 H1290 Q1297 1030 1294 1037 L1270 1078 Q1267 1083 1262 1083 H1254 Q1246 1083 1250 1075 L1274 1034 Q1276 1030 1281 1030Z"/>
<path class="g" d="M1464 1026.5 A22.500 27.750 0 0 1 1462 1082 H1444 Q1435.500 1082 1439.500 1074 L1459.500 1031 Q1461.500 1026.5 1464 1026.5Z"/>
<path class="l" d="M1100 1157H1467.5M1099.5 1125L1137 1189.5M1117 1125L1154.5 1189.5M1135.5 1125L1173 1189.5M1154.5 1125L1192 1189.5M1173 1125L1210.5 1189.5M1192 1125L1229.5 1189.5M1210.5 1125L1248 1189.5M1229.5 1125L1267 1189.5M1291 1125L1328.5 1189.5M1308.75 1125L1346.25 1189.5M1327.5 1125L1365 1189.5M1345.75 1125L1383.25 1189.5M1365 1125L1402.5 1189.5M1383.75 1125L1421.25 1189.5M1402.5 1125L1440 1189.5M1421.25 1125L1458.75 1189.5M1442.5 1128L1474.5 1179"/>
<path class="g" d="M1076 1129.5 H1078 Q1083.5 1129.5 1086 1134.5 L1107.5 1174 Q1112 1184.5 1101 1184.5 H1076 A26.500 27.500 0 0 1 1076 1129.5Z"/>
<path class="g" d="M1257 1129.5 H1276 Q1280 1129.5 1282 1133 L1306 1177 Q1310 1184.5 1302 1184.5 H1280 Q1276 1184.5 1274 1181 L1253 1137 Q1250 1129.5 1257 1129.5Z"/>
<path class="g" d="M1462 1128.5 H1483 Q1498 1130 1506 1149 Q1510 1165 1500 1172 L1488 1179.5 Q1482 1182 1479 1176 L1458 1136 Q1455 1128.5 1462 1128.5Z"/>
</g>
<!-- block H: top right -->
<g id="blockH">
<path class="g" d="M1614 102.500H1937Q1952 102.500 1952 117.500V155Q1950 180 1925.500 181V147H1638V179Q1638 184 1633 184H1612Q1586 182 1586 157V130Q1587 103 1614 102.500Z"/>
<path class="l" d="M1654.5 147V179.500M1669.41 147V179.500M1684.32 147V179.500M1699.23 147V179.500M1714.14 147V179.500M1729.05 147V179.500M1743.96 147V179.500M1758.87 147V179.500M1773.78 147V179.500M1788.69 147V179.500M1803.6 147V179.500M1818.51 147V179.500M1833.42 147V179.500M1848.33 147V179.500M1863.24 147V179.500M1878.15 147V179.500M1893.06 147V179.500M1907.97 147V179.500"/>
<path class="l" d="M1584 258A38 38 0 0 1 1622 220H1622.500V254H1764V228Q1764 220 1772 220H1780Q1788 220 1788 228V254H1920V228Q1920 220 1928 220H1930A32.500 32 0 0 1 1962.500 252V295Q1962.500 302 1955 302H1933V366H1953Q1961 366 1960 375Q1957 399 1932 400.750H1883.750V433H1850V425H1809.500V435.750H1767.500V497H1600Q1568 498 1570 476Q1570 460 1576 462.500L1601 468L1611 422L1584 413V372.750H1613V274.500H1592Q1584 274.500 1584 267V258"/>
<path class="l" d="M1582.500 286H1613M1582.500 301H1613M1582.500 317H1613M1582.500 332H1613M1582.500 347.5H1613M1582.500 362.5H1613M1933 317.5H1962M1933 334H1962M1933 350H1962M1641 221V254M1655.75 221V254M1670.75 221V254M1685.5 221V254M1700.5 221V254M1715 221V254M1730 221V254M1744.5 221V254M1802 221V254M1817.5 221V254M1832 221V254M1846.75 221V254M1861.5 221V254M1876 221V254M1890.75 221V254M1905.5 221V254M1579 429.500L1607.500 437M1575 445.750L1604 454.500M1933 302V275H1629.500V497M1604.500 497V538"/>
<path class="b" d="M1647.500 290.500H1916V391.500H1775V393.250H1747.500V489H1647.500Z"/>
<rect class="w" x="1862.500" y="290.500" width="27" height="101"/>
<path class="l" style="stroke-linejoin:miter" d="M1759 290.500V363H1775V393.250M1798 290.500V391.500M1837.500 290.500V391.500M1647.500 349.500H1759M1647.500 379.500H1677V393.250H1775M1647.500 440.750H1747.500"/>
</g>
<!-- main building -->
<g id="main">
<path class="b" d="M1605 537.500H1960V907.750H2000V1050.500H1561V940H1570V895H1561V852H1605Z"/>
<path class="l" d="M1605 672.750H1960"/>
<rect class="n" x="1561" y="782.750" width="44" height="69.500"/>
<rect class="n" x="1561" y="981.500" width="44" height="69"/>
<rect class="w" x="1605" y="1050.500" width="102.500" height="41.500"/>
<rect class="b" x="1605" y="1092" width="102.500" height="37"/>
<rect class="w" x="1605" y="1129" width="102.500" height="51.500"/>
<path class="n" style="stroke-linejoin:miter" d="M1707.500 1050.500H1748V1081H1719.500V1120H1748V1172H1707.500Z"/>
<rect class="n" x="1860.750" y="1058" width="24.750" height="24"/>
<rect class="n" x="1975" y="1058" width="24.500" height="37"/>
<rect class="n" x="1621" y="1204" width="76" height="12" rx="2"/>
<rect class="n" x="1965" y="828" width="12.500" height="70" rx="2"/>
<rect class="n" x="1982.500" y="828" width="13" height="70" rx="2"/>
<rect class="n" x="1534.500" y="622" width="35.500" height="38"/>
<rect class="n" x="1534.500" y="680" width="34.500" height="88"/>
<path class="l" d="M1534.500 640.500H1570M1534.500 697H1569M1534.500 711H1569M1534.500 724H1569M1534.500 736H1569M1534.500 749.500H1569"/>
<path class="l" d="M1482.500 986H1537.500V1064H1567.500V1165H1543Q1537.500 1165 1537.500 1170V1180L1560 1203Q1568 1210 1577 1205L1605 1182.500M1511 986V1042.500M1485 1042.500H1537.500M1537.500 1078H1567.500M1537.500 1093H1567.500M1537.500 1107H1567.500M1537.500 1122H1567.500M1537.500 1136H1567.500M1537.500 1150.5H1567.500"/>
</g>
</svg>
</body>
</html>
